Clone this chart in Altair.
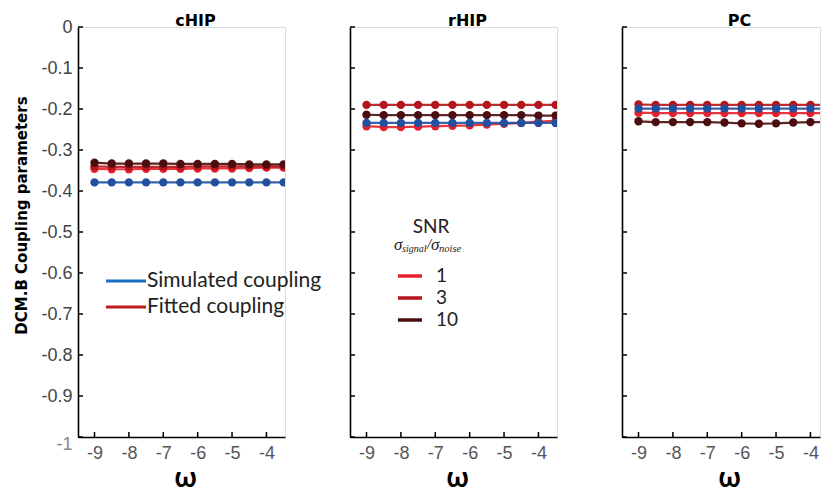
import altair as alt
import pandas as pd

# ---------------- data ----------------
OMEGA = [-9.0, -8.5, -8.0, -7.5, -7.0, -6.5, -6.0, -5.5, -5.0, -4.5, -4.0, -3.5]
PANELS = ["cHIP", "rHIP", "PC"]

SIM = {
    "cHIP": [-0.379, -0.379, -0.379, -0.379, -0.379, -0.379, -0.379, -0.379, -0.379, -0.379, -0.379, -0.379],
    "rHIP": [-0.234, -0.234, -0.234, -0.234, -0.234, -0.234, -0.234, -0.234, -0.234, -0.234, -0.234, -0.234],
    "PC":   [-0.199, -0.199, -0.199, -0.199, -0.199, -0.199, -0.199, -0.199, -0.199, -0.199, -0.199, -0.199],
}
SNR1 = {
    "cHIP": [-0.346, -0.347, -0.347, -0.346, -0.346, -0.346, -0.345, -0.345, -0.345, -0.344, -0.343, -0.343],
    "rHIP": [-0.242, -0.244, -0.244, -0.243, -0.242, -0.241, -0.240, -0.238, -0.236, -0.234, -0.231, -0.229],
    "PC":   [-0.209, -0.210, -0.210, -0.210, -0.210, -0.210, -0.210, -0.210, -0.210, -0.210, -0.210, -0.210],
}
SNR3 = {
    "cHIP": [-0.340, -0.341, -0.341, -0.341, -0.341, -0.341, -0.340, -0.340, -0.340, -0.340, -0.340, -0.340],
    "rHIP": [-0.190, -0.190, -0.190, -0.190, -0.190, -0.190, -0.190, -0.190, -0.190, -0.190, -0.190, -0.190],
    "PC":   [-0.189, -0.190, -0.190, -0.190, -0.190, -0.190, -0.190, -0.190, -0.190, -0.190, -0.190, -0.190],
}
SNR10 = {
    "cHIP": [-0.331, -0.333, -0.333, -0.333, -0.333, -0.334, -0.334, -0.334, -0.334, -0.335, -0.335, -0.335],
    "rHIP": [-0.214, -0.215, -0.215, -0.215, -0.215, -0.215, -0.215, -0.215, -0.215, -0.215, -0.216, -0.216],
    "PC":   [-0.230, -0.232, -0.232, -0.232, -0.232, -0.233, -0.235, -0.236, -0.235, -0.233, -0.232, -0.232],
}

SERIES = [("SNR 1", SNR1, "#e8202a"), ("SNR 3", SNR3, "#b5151c"),
          ("SNR 10", SNR10, "#4b0d0f"), ("Simulated", SIM, "#2150a0")]

X_TICKS = [-9, -8, -7, -6, -5, -4]
Y_TICKS = [0, -0.1, -0.2, -0.3, -0.4, -0.5, -0.6, -0.7, -0.8, -0.9, -1]

LEG1 = [("Simulated coupling", "#1a6fc0"), ("Fitted coupling", "#c01a22")]
LEG2 = [("1", "#e8202a"), ("3", "#b5151c"), ("10", "#4b0d0f")]

W, H = 207, 410
W_LAST = 198          # last panel is cut by the right edge of the picture
X_LO, X_HI = -9.48, -3.46
PX_PER_UNIT = W / (X_HI - X_LO)
TXT = "Lato"
BOLD = "DejaVu Sans"
TICKFONT = "Liberation Sans"

rows = []
for p in PANELS:
    for name, src, _ in SERIES:
        for x, v in zip(OMEGA, src[p]):
            rows.append({"panel": p, "series": name, "omega": x, "value": v})
df = pd.DataFrame(rows)

yscale = alt.Scale(domain=[-1, 0], nice=False, zero=False)


def panel(i, p):
    w = W if i < len(PANELS) - 1 else W_LAST
    xscale = alt.Scale(domain=[X_LO, X_LO + w / PX_PER_UNIT], nice=False, zero=False)
    d = df[df.panel == p]
    xaxis = alt.Axis(values=X_TICKS, title="ω", titleFontSize=28, titleFont=TXT,
                     titleFontWeight="bold", titleColor="black", titleX=107, titleY=41,
                     titleBaseline="middle", titleAlign="center",
                     labelFont=TICKFONT, labelFontSize=18,
                     labelColor="#555555", labelPadding=7, tickSize=0,
                     domainColor="black", domainWidth=1.6, grid=False,
                     labelExpr="'-' + format(-datum.value, '~g')")
    if i == 0:
        yaxis = alt.Axis(values=Y_TICKS, title="DCM.B Coupling parameters",
                         titleFont=BOLD, titleFontSize=15, titleFontWeight="bold",
                         titleColor="black", titleAngle=-90, titleX=-57, titleY=188,
                         titleBaseline="middle", titleAlign="center",
                         labelFont=TICKFONT, labelFontSize=18,
                         labelColor={"condition": {"test": "datum.value == -1", "value": "#888888"},
                                     "value": "#444444"},
                         labelOffset={"condition": {"test": "datum.value == -1", "value": 7},
                                      "value": 0},
                         labelPadding=6, tickSize=0, domainColor="black",
                         domainWidth=1.6, grid=False,
                         labelExpr="datum.value == 0 ? '0' : '-' + format(-datum.value, '~g')")
    else:
        yaxis = alt.Axis(values=Y_TICKS, title=None, labels=False, tickSize=0,
                         domainColor="black", domainWidth=1.6, grid=False)
    layers = []
    for k, (name, _, col) in enumerate(SERIES):
        dd = d[d.series == name]
        base = alt.Chart(dd).encode(
            x=alt.X("omega:Q", scale=xscale, axis=xaxis),
            y=alt.Y("value:Q", scale=yscale, axis=yaxis),
        )
        layers.append(base.mark_line(color=col, strokeWidth=2.2, opacity=0.9, clip=True))
        layers.append(base.mark_circle(color=col, size=70, opacity=1, clip=True))
    # inward ticks
    yt = alt.Chart(pd.DataFrame({"value": Y_TICKS})).mark_rule(color="black", strokeWidth=1.5).encode(
        y=alt.Y("value:Q", scale=yscale, axis=yaxis), x=alt.value(0), x2=alt.value(5))
    xt = alt.Chart(pd.DataFrame({"omega": X_TICKS})).mark_rule(color="black", strokeWidth=1.5).encode(
        x=alt.X("omega:Q", scale=xscale, axis=xaxis), y=alt.value(H), y2=alt.value(H - 5))
    layers += [yt, xt]

    one = alt.Chart(pd.DataFrame({"a": [0]}))
    # panel title
    layers.append(one.mark_text(align="center", baseline="middle", font=BOLD, fontSize=16,
                                fontWeight="bold", color="black").encode(
        x=alt.value(W / 2 + 14), y=alt.value(-6), text=alt.value(p)))
    if i == 0:
        for r, (lab, col) in enumerate(LEG1):
            yy = 254 + 26 * r
            layers.append(one.mark_rule(strokeWidth=3, color=col).encode(
                x=alt.value(28), x2=alt.value(68), y=alt.value(yy)))
            layers.append(one.mark_text(align="left", baseline="middle", font=TXT, fontSize=21,
                                        color="#222222").encode(
                x=alt.value(69), y=alt.value(yy), text=alt.value(lab)))
    if i == 1:
        for r, (lab, col) in enumerate(LEG2):
            yy = 249 + 22 * r
            layers.append(one.mark_rule(strokeWidth=3.5, color=col).encode(
                x=alt.value(48), x2=alt.value(72), y=alt.value(yy)))
            layers.append(one.mark_text(align="left", baseline="middle", font=TXT, fontSize=19,
                                        color="#222222").encode(
                x=alt.value(86), y=alt.value(yy), text=alt.value(lab)))
        layers.append(one.mark_text(align="center", baseline="middle", font=TXT, fontSize=19,
                                    color="#222222").encode(
            x=alt.value(81), y=alt.value(200), text=alt.value("SNR")))
        serif = "Liberation Serif"
        parts = [("σ", 44, 218, 17), ("signal", 52, 222, 10), ("/", 77, 217, 15),
                 ("σ", 81, 218, 17), ("noise", 89, 222, 10.5)]
        for t, px, py, fs in parts:
            layers.append(one.mark_text(align="left", baseline="middle", font=serif,
                                        fontStyle="italic", fontSize=fs, color="#222222").encode(
                x=alt.value(px), y=alt.value(py), text=alt.value(t)))

    return alt.layer(*layers).properties(width=w, height=H)


chart = alt.hconcat(*[panel(i, p) for i, p in enumerate(PANELS)], spacing=65,
                    bounds="flush").properties(
    padding={"left": 5, "top": 4, "right": 0, "bottom": 0}
).configure_view(stroke=None).configure(background="white")

chart.save("out.html", embed_options={"renderer": "svg", "actions": False})
